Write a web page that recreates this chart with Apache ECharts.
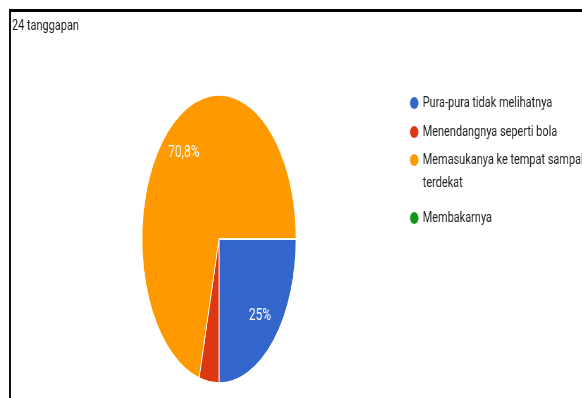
<!DOCTYPE html>
<html>
<head>
<meta charset="utf-8">
<script src="https://cdn.jsdelivr.net/npm/echarts@6/dist/echarts.min.js"></script>
<style>
  html, body { margin: 0; padding: 0; background: #fff; }
  #wrap { position: relative; width: 582px; height: 398px; overflow: hidden; }
  /* pie is drawn round, then squeezed sideways like the screenshot */
  #pie { position: absolute; left: 19px; top: 0; width: 400px; height: 398px;
         transform-origin: 200px 0; transform: scaleX(0.535); }
  /* text layer: the screenshot's lettering is narrowed too */
  #main { position: absolute; left: 0; top: 0; width: 826px; height: 398px;
          transform-origin: 0 0; transform: scaleX(0.705); }
  #frame { position: absolute; left: 9px; top: 9px; right: -5px; bottom: -5px;
           border-top: 3px solid #000; border-left: 2px solid #111; }
</style>
</head>
<body>
<div id="wrap">
  <div id="pie"></div>
  <div id="main"></div>
  <div id="frame"></div>
</div>
<script>
// data
const TITLE = '24 tanggapan';
const CATEGORIES = [
    'Pura-pura tidak melihatnya',
    'Menendangnya seperti bola',
    'Memasukanya ke tempat sampah terdekat',
    'Membakarnya'
];
const COUNTS = [6, 1, 17, 0];
const SLICE_COLORS = ['#3366cc', '#dc3912', '#ff9900', '#109618'];

// layout
const PIE_CX = 219, PIE_CY = 239, PIE_R = 144;
const SX = 0.535;   // pie squeeze
const TS = 0.705;   // text squeeze
const FONT = 'Roboto, sans-serif';

// --- squeezed pie ---
const pieChart = echarts.init(document.getElementById('pie'), null, { renderer: 'canvas' });
pieChart.setOption({
    animation: false,
    series: [{
        type: 'pie',
        center: ['50%', PIE_CY],
        radius: PIE_R,
        startAngle: 0,
        clockwise: true,
        label: { show: false },
        labelLine: { show: false },
        itemStyle: { borderColor: '#fff', borderWidth: 1.5 },
        data: CATEGORIES.map((name, i) => ({
            name, value: COUNTS[i], itemStyle: { color: SLICE_COLORS[i] }
        }))
    }]
});

// --- title, legend, percent labels (in the narrowed layer) ---
const fmtPct = p => p.percent < 10 ? '' : (Math.round(p.percent * 10) / 10).toString().replace('.', ',') + '%';
const legendItem = i => ({ name: CATEGORIES[i], itemStyle: { color: SLICE_COLORS[i] } });
const legendBase = {
    orient: 'vertical',
    left: 410 / TS,
    padding: 0,
    icon: 'circle',
    symbolKeepAspect: false,
    itemWidth: 14,
    itemHeight: 12,
    itemGap: 9,
    selectedMode: false,
    textStyle: { fontFamily: FONT, fontSize: 15.5, color: '#222', lineHeight: 20 }
};
const cxL = PIE_CX / TS;

const chart = echarts.init(document.getElementById('main'), null, { renderer: 'canvas' });
chart.setOption({
    animation: false,
    title: {
        text: TITLE,
        left: 12 / TS,
        top: 18,
        padding: 0,
        textStyle: { fontFamily: FONT, fontSize: 15.5, fontWeight: 'normal', color: '#222' }
    },
    legend: [
        { ...legendBase, top: 93, data: [legendItem(0), legendItem(1)] },
        {
            ...legendBase, top: 125.5, data: [legendItem(2)],
            // blank first line keeps the dot level with the first text line
            formatter: name => '\n' + name.replace(' terdekat', '\nterdekat'),
            textStyle: { ...legendBase.textStyle, lineHeight: 23 }
        },
        { ...legendBase, top: 208, data: [legendItem(3)] }
    ],
    series: [{
        type: 'pie',
        silent: true,
        center: [cxL, PIE_CY],
        radius: [PIE_R * 0.46, PIE_R],
        startAngle: 0,
        clockwise: true,
        label: {
            show: true,
            position: 'inside',
            formatter: fmtPct,
            color: '#fff',
            fontFamily: FONT,
            fontSize: 17
        },
        labelLine: { show: false },
        // move labels in from the round layout to the squeezed pie
        labelLayout: p => {
            const mid = p.labelRect.x + p.labelRect.width / 2;
            return { dx: (mid - cxL) * (SX / TS - 1) };
        },
        data: CATEGORIES.map((name, i) => ({
            name, value: COUNTS[i], itemStyle: { color: 'rgba(0,0,0,0)' }
        }))
    }]
});
</script>
</body>
</html>
